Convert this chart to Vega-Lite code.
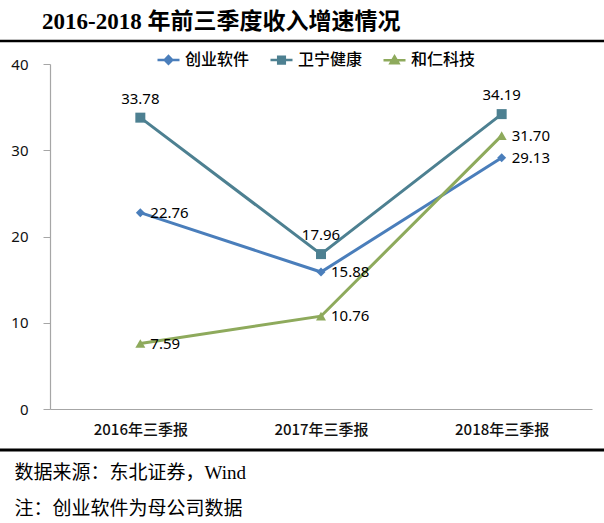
{
  "$schema": "https://vega.github.io/schema/vega-lite/v6.json",
  "width": 542,
  "height": 345,
  "autosize": {"type": "none"},
  "padding": {"left": 50, "top": 64, "right": 12, "bottom": 114},
  "background": "white",
  "title": {
    "text": "2016-2018 年前三季度收入增速情况",
    "anchor": "start",
    "frame": "group",
    "dx": -8,
    "offset": 6,
    "font": "Liberation Serif, Noto Sans CJK SC",
    "fontSize": 23,
    "fontWeight": "bold",
    "color": "#000000"
  },
  "data": {
    "values": [
      {"series": "创业软件", "period": "2016年三季报", "value": 22.76},
      {"series": "创业软件", "period": "2017年三季报", "value": 15.88},
      {"series": "创业软件", "period": "2018年三季报", "value": 29.13},
      {"series": "卫宁健康", "period": "2016年三季报", "value": 33.78},
      {"series": "卫宁健康", "period": "2017年三季报", "value": 17.96},
      {"series": "卫宁健康", "period": "2018年三季报", "value": 34.19},
      {"series": "和仁科技", "period": "2016年三季报", "value": 7.59},
      {"series": "和仁科技", "period": "2017年三季报", "value": 10.76},
      {"series": "和仁科技", "period": "2018年三季报", "value": 31.70}
    ]
  },
  "config": {
    "view": {"stroke": null},
    "legend": {
      "orient": "none",
      "legendX": 106,
      "legendY": -17,
      "direction": "horizontal",
      "padding": 0,
      "labelFont": "Noto Sans CJK SC",
      "labelFontSize": 16,
      "labelFontWeight": 500,
      "labelColor": "#000000",
      "labelOffset": 4,
      "columnPadding": 15,
      "symbolSize": 484,
      "symbolStrokeWidth": 2.5,
      "symbolOpacity": 1
    }
  },
  "layer": [
    {
      "encoding": {
        "x": {
          "field": "period",
          "type": "nominal",
          "sort": ["2016年三季报", "2017年三季报", "2018年三季报"],
          "scale": {"type": "point", "padding": 0.5},
          "axis": {
            "labelAngle": 0,
            "labelFont": "Noto Sans CJK SC",
            "labelFontSize": 15,
            "labelFontWeight": 500,
            "labelColor": "#111111",
            "labelPadding": 13,
            "ticks": false,
            "tickSize": 0,
            "domainColor": "#A6A6A6",
            "domainWidth": 1.2,
            "title": ["数据来源：东北证券，Wind", "注：创业软件为母公司数据"],
            "titleFont": "Liberation Serif, Noto Sans CJK SC",
            "titleFontSize": 19,
            "titleFontWeight": "normal",
            "titleColor": "#000000",
            "titleAlign": "left",
            "titleBaseline": "top",
            "titleX": -36,
            "titleY": 54,
            "titleLineHeight": 36
          }
        },
        "y": {
          "field": "value",
          "type": "quantitative",
          "scale": {"domain": [0, 40], "nice": false},
          "axis": {
            "values": [0, 10, 20, 30, 40],
            "title": null,
            "grid": false,
            "domainColor": "#A6A6A6",
            "domainWidth": 1.2,
            "tickColor": "#A6A6A6",
            "tickSize": 7,
            "labelPadding": 15,
            "labelFont": "Noto Sans",
            "labelFontSize": 15,
            "labelColor": "#111111"
          }
        },
        "color": {
          "field": "series",
          "type": "nominal",
          "title": null,
          "scale": {
            "domain": ["创业软件", "卫宁健康", "和仁科技"],
            "range": ["#4A7EBB", "#4D8091", "#8EAA5C"]
          }
        }
      },
      "layer": [
        {"mark": {"type": "line", "strokeWidth": 3}},
        {
          "transform": [{"filter": "datum.series === '创业软件'"}],
          "mark": {"type": "point", "shape": "diamond", "filled": true, "opacity": 1, "size": 80}
        },
        {
          "transform": [{"filter": "datum.series === '卫宁健康'"}],
          "mark": {"type": "point", "shape": "square", "filled": true, "opacity": 1, "size": 100}
        },
        {
          "transform": [{"filter": "datum.series === '和仁科技'"}],
          "mark": {"type": "point", "shape": "triangle-up", "filled": true, "opacity": 1, "size": 100}
        },
        {
          "mark": {"type": "point", "filled": true, "opacity": 0},
          "encoding": {
            "shape": {
              "field": "series",
              "type": "nominal",
              "title": null,
              "scale": {
                "domain": ["创业软件", "卫宁健康", "和仁科技"],
                "range": [
                  "M-1,0H1M0,-0.34L0.34,0L0,0.34L-0.34,0Z",
                  "M-1,0H1M-0.3,-0.3H0.3V0.3H-0.3Z",
                  "M-1,0H1M0,-0.34L0.36,0.28H-0.36Z"
                ]
              },
              "legend": {
                "encode": {
                  "symbols": {
                    "update": {
                      "stroke": {"scale": "color", "field": "value"},
                      "strokeWidth": {"value": 2.5}
                    }
                  }
                }
              }
            }
          }
        },
        {
          "transform": [{"filter": "datum.series === '卫宁健康'"}],
          "mark": {"type": "text", "dy": -19, "align": "center", "baseline": "middle", "font": "Noto Sans", "fontSize": 15, "color": "#000000"},
          "encoding": {
            "text": {"field": "value", "type": "quantitative", "format": ".2f"},
            "color": {"value": "#000000"}
          }
        },
        {
          "transform": [{"filter": "datum.series !== '卫宁健康'"}],
          "mark": {"type": "text", "dx": 10, "align": "left", "baseline": "middle", "font": "Noto Sans", "fontSize": 15, "color": "#000000"},
          "encoding": {
            "text": {"field": "value", "type": "quantitative", "format": ".2f"},
            "color": {"value": "#000000"}
          }
        }
      ]
    },
    {
      "data": {"values": [{}]},
      "mark": {"type": "rule", "strokeWidth": 2.5, "color": "#000000"},
      "encoding": {
        "x": {"datum": -0.0923, "type": "quantitative", "scale": {"domain": [0, 1], "nice": false}, "axis": null},
        "x2": {"datum": 1.0222},
        "y": {"datum": 42.67, "type": "quantitative"}
      }
    },
    {
      "data": {"values": [{}]},
      "mark": {"type": "rule", "strokeWidth": 3, "color": "#000000"},
      "encoding": {
        "x": {"datum": -0.0923, "type": "quantitative", "scale": {"domain": [0, 1], "nice": false}, "axis": null},
        "x2": {"datum": 1.0222},
        "y": {"datum": -4.754, "type": "quantitative"}
      }
    }
  ],
  "resolve": {"scale": {"x": "independent"}}
}
